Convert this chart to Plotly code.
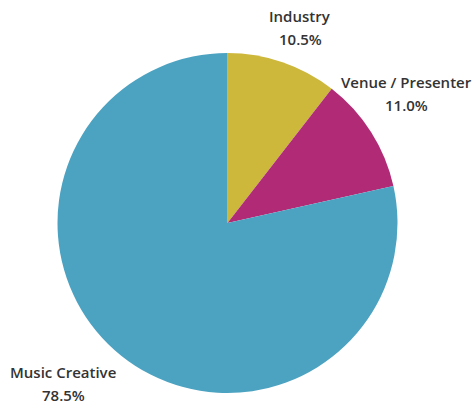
import plotly.graph_objects as go

# Share of respondents by role
categories = ["Industry", "Venue / Presenter", "Music Creative"]
shares = [10.5, 11.0, 78.5]
colors = ["#cdb83c", "#b02a76", "#4ca2c1"]

W, H = 475, 404
# Label anchor points in pixels from the top-left corner
label_px = {
    "Industry": (300, 16),
    "Venue / Presenter": (406, 82),
    "Music Creative": (63, 372),
}
line_gap = 23

fig = go.Figure(
    go.Pie(
        labels=categories,
        values=shares,
        marker=dict(colors=colors, line=dict(width=0)),
        sort=False,
        direction="clockwise",
        rotation=0,
        textinfo="none",
        hoverinfo="label+percent",
        domain=dict(x=[57 / W, 398 / W], y=[1 - 393 / H, 1 - 53 / H]),
        showlegend=False,
    )
)

font = dict(family="Open Sans", size=15, color="#333333", weight=600)
annotations = []
for name, val in zip(categories, shares):
    px, py = label_px[name]
    annotations.append(dict(x=px / W, y=1 - py / H, xref="paper", yref="paper",
                            text=name, showarrow=False, font=font,
                            xanchor="center", yanchor="middle"))
    annotations.append(dict(x=px / W, y=1 - (py + line_gap) / H, xref="paper", yref="paper",
                            text=f"{val:.1f}%", showarrow=False, font=font,
                            xanchor="center", yanchor="middle"))

fig.update_layout(
    width=W, height=H,
    margin=dict(l=0, r=0, t=0, b=0),
    paper_bgcolor="white",
    plot_bgcolor="white",
    annotations=annotations,
)

fig.write_html("out.html")
